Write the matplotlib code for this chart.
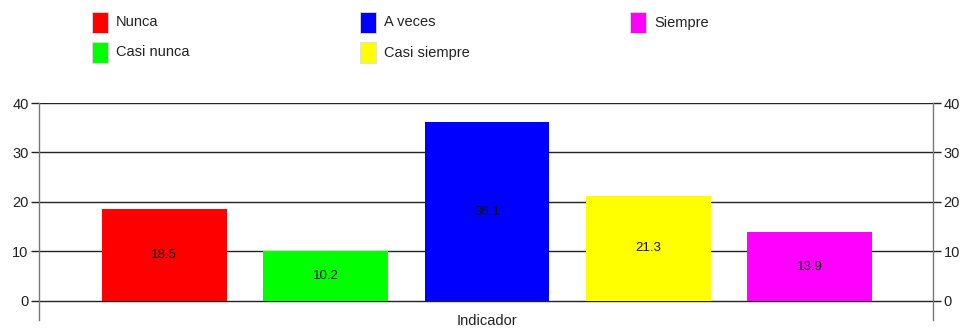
import matplotlib
matplotlib.use("Agg")
import matplotlib.pyplot as plt
from matplotlib.patches import Rectangle
from matplotlib import font_manager

categories = ["Nunca", "Casi nunca", "A veces", "Casi siempre", "Siempre"]
values = [18.5, 10.2, 36.1, 21.3, 13.9]
colors = ["#ff0000", "#00ff00", "#0000ff", "#ffff00", "#ff00ff"]
yticks = [0, 10, 20, 30, 40]
xlabel = "Indicador"

names = {f.name for f in font_manager.fontManager.ttflist}
fam = "Liberation Sans Narrow" if "Liberation Sans Narrow" in names else "Liberation Sans"
plt.rcParams['font.family'] = [fam, 'DejaVu Sans']

W, H = 960, 331
fig = plt.figure(figsize=(W / 100, H / 100), dpi=100)
ax = fig.add_axes([39 / W, 1 - 320 / H, (933 - 39) / W, (320 - 103) / H])

x = list(range(len(values)))
ax.set_axisbelow(True)
for yv in yticks:
    ax.axhline(yv, color="#222222", lw=1.0, zorder=0)
ax.bar(x, values, width=0.774, color=colors, edgecolor="none", zorder=2)
for xi, v in zip(x, values):
    ax.text(xi, v / 2, f"{v}", ha="center", va="center", fontsize=9.5, color="#111111", zorder=3)

ax.set_xlim(-0.777, 4.765)
ax.set_ylim(-3.84, 40)
ax.set_yticks(yticks)
ax.set_xticks([])
ax.tick_params(axis="y", which="both", left=True, right=True, labelleft=True, labelright=True,
               length=6, width=1, color="#222222", labelsize=10.5, pad=1.5, labelcolor="#222222")
for s in ["top", "bottom"]:
    ax.spines[s].set_visible(False)
for s in ["left", "right"]:
    ax.spines[s].set_color("#777777")
    ax.spines[s].set_linewidth(1)

fig.text(487 / W, 1 - 321 / H, xlabel, ha="center", va="center", fontsize=10.5, color="#222222")

# legend, laid out manually in three columns
col_x = [92, 360, 630]
row_y = [22.5, 52.5]
order = [(0, 0), (0, 1), (1, 0), (1, 1), (2, 0)]
for (c, r), name, col in zip(order, categories, colors):
    px, py = col_x[c], row_y[r]
    fig.patches.append(Rectangle((px / W, 1 - (py + 10.5) / H), 16 / W, 21 / H,
                                 transform=fig.transFigure, facecolor=col,
                                 edgecolor="#dddddd", lw=0.6))
    fig.text((px + 24) / W, 1 - py / H, name, ha="left", va="center", fontsize=10.5, color="#222222")

fig.savefig("out.png", dpi=100)
